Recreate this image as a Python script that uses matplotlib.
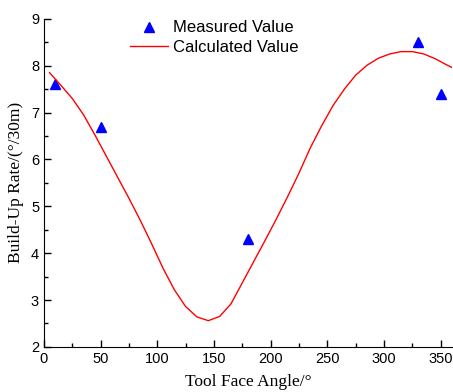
import matplotlib
matplotlib.use("Agg")
import matplotlib.pyplot as plt
from matplotlib.ticker import MultipleLocator

# measured points
meas_angle = [10, 50, 180, 330, 350]
meas_rate = [7.6, 6.7, 4.3, 8.5, 7.4]

# calculated curve
calc_angle = [5, 15, 25, 35, 45, 55, 65, 75, 85, 95, 105, 115, 125, 135, 145,
              155, 165, 175, 185, 195, 205, 215, 225, 235, 245, 255, 265, 275,
              285, 295, 305, 315, 325, 335, 345, 355, 360]
calc_rate = [7.85, 7.58, 7.30, 6.95, 6.52, 6.07, 5.62, 5.17, 4.70, 4.20, 3.68,
             3.22, 2.86, 2.64, 2.56, 2.65, 2.92, 3.37, 3.82, 4.27, 4.73, 5.21,
             5.71, 6.25, 6.72, 7.15, 7.50, 7.80, 8.01, 8.16, 8.25, 8.30, 8.30,
             8.25, 8.15, 8.02, 7.96]

fig = plt.figure(figsize=(4.53, 3.92), dpi=100)
ax = fig.add_axes([0.097, 0.115, 0.901, 0.837])

ax.plot(meas_angle, meas_rate, linestyle='none', marker='^', color='#0000ff',
        markersize=7, label='Measured Value')
ax.plot(calc_angle, calc_rate, color='#ff0000', lw=1.0, label='Calculated Value')

ax.set_xlim(0, 360)
ax.set_ylim(2, 9)
ax.xaxis.set_major_locator(MultipleLocator(50))
ax.xaxis.set_minor_locator(MultipleLocator(25))
ax.yaxis.set_major_locator(MultipleLocator(1))
ax.yaxis.set_minor_locator(MultipleLocator(0.5))
ax.tick_params(which='both', direction='in', width=1)
ax.tick_params(which='major', length=5)
ax.tick_params(which='minor', length=3)
for lab in ax.get_xticklabels() + ax.get_yticklabels():
    lab.set_family('Liberation Sans')
    lab.set_fontsize(10.5)

ax.spines['top'].set_visible(False)
ax.spines['right'].set_visible(False)

ax.set_xlabel('Tool Face Angle/°', family='Liberation Serif', fontsize=12.5, labelpad=6)
ax.set_ylabel('Build-Up Rate/(°/30m)', family='Liberation Serif', fontsize=12.5, labelpad=5)

ax.legend(loc='upper left', bbox_to_anchor=(0.21, 0.995), frameon=False,
          borderpad=0, borderaxespad=0, handlelength=2.3, handletextpad=0.3,
          labelspacing=0.25, prop={'family': 'Liberation Sans', 'size': 12})

fig.savefig('out.png', dpi=100)
